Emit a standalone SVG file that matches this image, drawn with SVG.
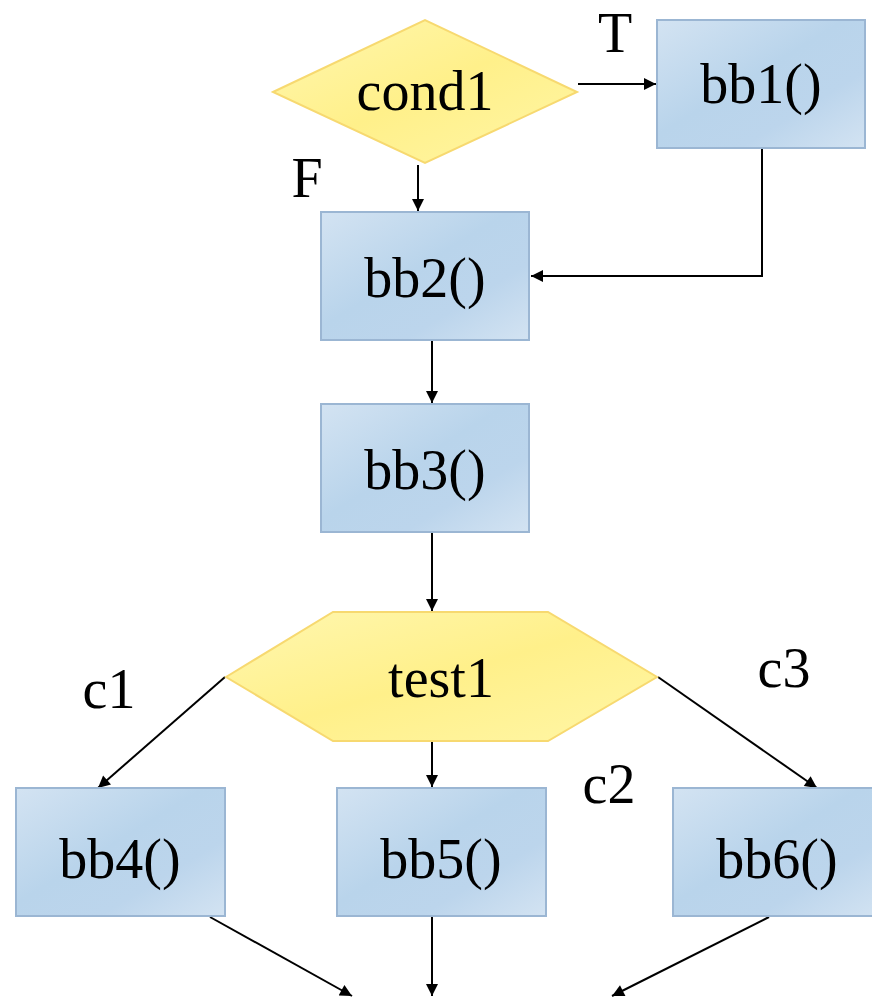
<svg xmlns="http://www.w3.org/2000/svg" width="872" height="997" viewBox="0 0 872 997">
  <defs>
    <linearGradient id="boxFill" x1="0" y1="0" x2="1" y2="1">
      <stop offset="0" stop-color="#d3e3f2"/>
      <stop offset="0.45" stop-color="#b9d4eb"/>
      <stop offset="0.7" stop-color="#bcd5ec"/>
      <stop offset="1" stop-color="#d3e3f2"/>
    </linearGradient>
    <linearGradient id="decFill" x1="0" y1="0" x2="1" y2="1">
      <stop offset="0" stop-color="#fff7b0"/>
      <stop offset="0.5" stop-color="#fff08a"/>
      <stop offset="1" stop-color="#fff6a6"/>
    </linearGradient>
    <marker id="arrow" viewBox="0 0 10 10" refX="10" refY="5" markerWidth="7.5" markerHeight="6" markerUnits="strokeWidth" orient="auto">
      <path d="M0,0 L10,5 L0,10 z" fill="#000"/>
    </marker>
  </defs>
  <style>
    .box { fill: url(#boxFill); stroke: #9bb6d3; stroke-width: 2; }
    .dec { fill: url(#decFill); stroke: #f7d970; stroke-width: 2; }
    .lbl { font-family: "Liberation Serif", "Times New Roman", serif; font-size: 56px; fill: #000; text-anchor: middle; }
    .edge { fill: none; stroke: #000; stroke-width: 2; marker-end: url(#arrow); }
  </style>

  <!-- connectors -->
  <g id="connectors">
    <line class="edge" x1="578" y1="84" x2="656" y2="84"/>
    <line class="edge" x1="418" y1="165" x2="418" y2="211"/>
    <polyline class="edge" points="762,148 762,276 531,276"/>
    <line class="edge" x1="432" y1="341" x2="432" y2="403"/>
    <line class="edge" x1="432" y1="533" x2="432" y2="611"/>
    <line class="edge" x1="225" y1="677" x2="98" y2="788"/>
    <line class="edge" x1="432" y1="741" x2="432" y2="787"/>
    <line class="edge" x1="658" y1="677" x2="817" y2="788"/>
    <line class="edge" x1="210" y1="917" x2="352" y2="996"/>
    <line class="edge" x1="432" y1="917" x2="432" y2="996"/>
    <line class="edge" x1="769" y1="917" x2="612" y2="996"/>
  </g>

  <!-- edge labels -->
  <g id="edge-labels">
    <text class="lbl" x="615" y="52">T</text>
    <text class="lbl" x="307" y="197">F</text>
    <text class="lbl" x="109" y="708">c1</text>
    <text class="lbl" x="609" y="803">c2</text>
    <text class="lbl" x="784" y="687">c3</text>
  </g>

  <g id="cond1">
    <polygon class="dec" points="273,92 425,20 577,92 425,163"/>
    <text class="lbl" x="425" y="110">cond1</text>
  </g>

  <g id="bb1">
    <rect class="box" x="657" y="20" width="208" height="128"/>
    <text class="lbl" x="761" y="103">bb1()</text>
  </g>

  <g id="bb2">
    <rect class="box" x="321" y="212" width="208" height="128"/>
    <text class="lbl" x="425" y="297">bb2()</text>
  </g>

  <g id="bb3">
    <rect class="box" x="321" y="404" width="208" height="128"/>
    <text class="lbl" x="425" y="489">bb3()</text>
  </g>

  <g id="test1">
    <polygon class="dec" points="226,677 333,612 548,612 657,677 548,741 333,741"/>
    <text class="lbl" x="441" y="697">test1</text>
  </g>

  <g id="bb4">
    <rect class="box" x="16" y="788" width="209" height="128"/>
    <text class="lbl" x="120" y="878">bb4()</text>
  </g>

  <g id="bb5">
    <rect class="box" x="337" y="788" width="209" height="128"/>
    <text class="lbl" x="441" y="878">bb5()</text>
  </g>

  <g id="bb6">
    <rect class="box" x="673" y="788" width="209" height="128"/>
    <text class="lbl" x="777" y="878">bb6()</text>
  </g>
</svg>
